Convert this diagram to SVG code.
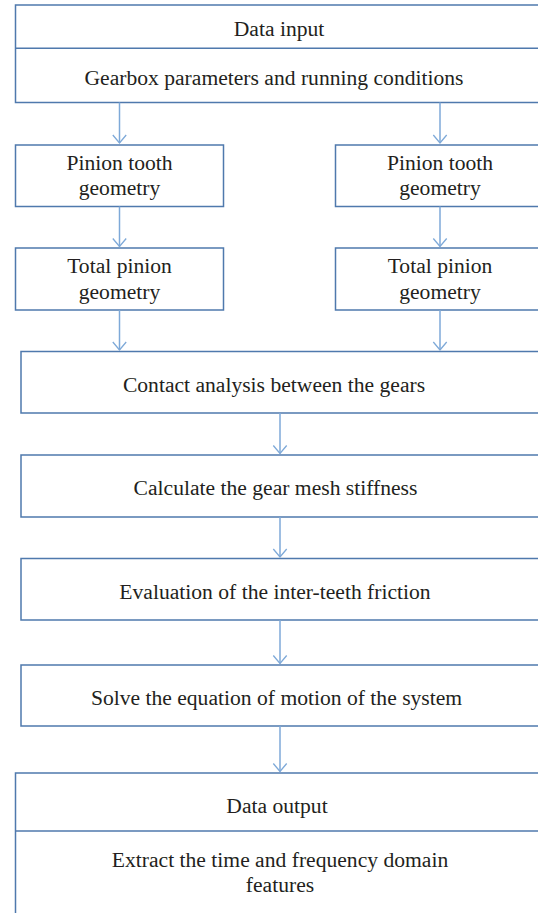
<svg xmlns="http://www.w3.org/2000/svg" width="538" height="913" viewBox="0 0 538 913">
<style>
.box{fill:#fff;stroke:#4f79ad;stroke-width:1.5}
.div{stroke:#4f79ad;stroke-width:1.5;fill:none}
text{font-family:'Liberation Serif','DejaVu Serif',serif;font-size:21.6px;fill:#231f20;text-anchor:middle}
.c line{stroke:#7ea9d8;stroke-width:1.5}
.c path{stroke:#7ea9d8;stroke-width:1.3;fill:none}
</style>
<rect width="538" height="913" fill="#fff"/>
<g id="n-input">
<path class="box" d="M540 5 H15.5 V102.5 H540"/>
<line class="div" x1="15.5" y1="48.3" x2="540" y2="48.3"/>
<text x="279" y="36">Data input</text>
<text x="274" y="85">Gearbox parameters and running conditions</text>
</g>
<g id="n-tooth-left">
<rect class="box" x="15.5" y="145" width="208" height="61.5"/>
<text x="119.5" y="169.5">Pinion tooth</text>
<text x="119.5" y="195">geometry</text>
</g>
<g id="n-tooth-right">
<path class="box" d="M540 145 H335.5 V206.5 H540"/>
<text x="440" y="169.5">Pinion tooth</text>
<text x="440" y="195">geometry</text>
</g>
<g id="n-total-left">
<rect class="box" x="15.5" y="248" width="208" height="62"/>
<text x="119.5" y="273">Total pinion</text>
<text x="119.5" y="298.5">geometry</text>
</g>
<g id="n-total-right">
<path class="box" d="M540 248 H335.5 V310 H540"/>
<text x="440" y="273">Total pinion</text>
<text x="440" y="298.5">geometry</text>
</g>
<g id="n-contact">
<path class="box" d="M540 351.5 H21 V413 H540"/>
<text x="274" y="392">Contact analysis between the gears</text>
</g>
<g id="n-stiffness">
<path class="box" d="M540 455 H21 V517 H540"/>
<text x="275.5" y="494.5">Calculate the gear mesh stiffness</text>
</g>
<g id="n-friction">
<path class="box" d="M540 558.5 H21 V620 H540"/>
<text x="275" y="598.5">Evaluation of the inter-teeth friction</text>
</g>
<g id="n-motion">
<path class="box" d="M540 665 H21 V726 H540"/>
<text x="276.5" y="705">Solve the equation of motion of the system</text>
</g>
<g id="n-output">
<path class="box" d="M540 773 H15.5 V920"/>
<line class="div" x1="15.5" y1="831" x2="540" y2="831"/>
<text x="277" y="812.5">Data output</text>
<text x="280" y="867">Extract the time and frequency domain</text>
<text x="280" y="892">features</text>
</g>
<g id="connectors" class="c">
<line x1="119.5" y1="102.5" x2="119.5" y2="143"/><path d="M112.8 135 L119.5 143 L126.2 135"/>
<line x1="440" y1="102.5" x2="440" y2="143"/><path d="M433.3 135 L440 143 L446.7 135"/>
<line x1="119.5" y1="206.5" x2="119.5" y2="246.5"/><path d="M112.8 238.5 L119.5 246.5 L126.2 238.5"/>
<line x1="440" y1="206.5" x2="440" y2="246.5"/><path d="M433.3 238.5 L440 246.5 L446.7 238.5"/>
<line x1="119.5" y1="310" x2="119.5" y2="350"/><path d="M112.8 342 L119.5 350 L126.2 342"/>
<line x1="440" y1="310" x2="440" y2="350"/><path d="M433.3 342 L440 350 L446.7 342"/>
<line x1="280" y1="413" x2="280" y2="453.5"/><path d="M273.3 445.5 L280 453.5 L286.7 445.5"/>
<line x1="280" y1="517" x2="280" y2="557"/><path d="M273.3 549 L280 557 L286.7 549"/>
<line x1="280" y1="620" x2="280" y2="663.5"/><path d="M273.3 655.5 L280 663.5 L286.7 655.5"/>
<line x1="280" y1="726" x2="280" y2="771.5"/><path d="M273.3 763.5 L280 771.5 L286.7 763.5"/>
</g>
</svg>
